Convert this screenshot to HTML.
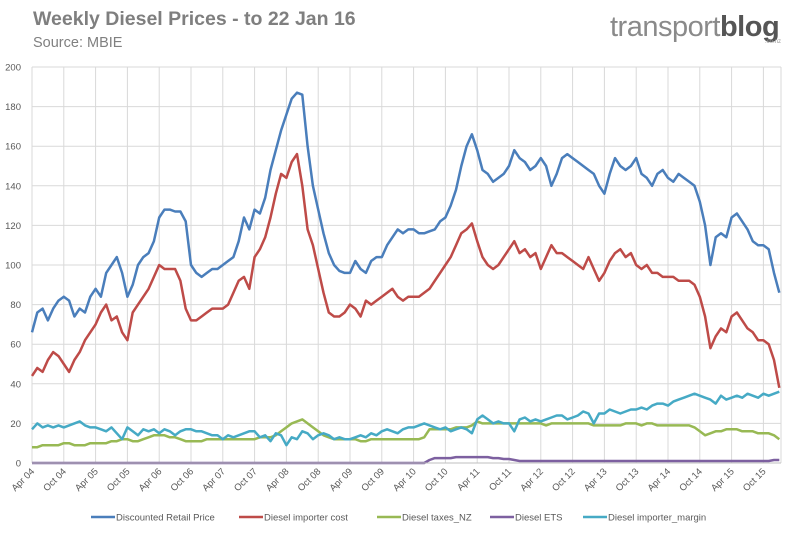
<!DOCTYPE html>
<html><head><meta charset="utf-8"><style>
html,body{margin:0;padding:0;background:#fff;}
body{width:800px;height:533px;overflow:hidden;font-family:"Liberation Sans",sans-serif;}
</style></head><body>
<svg id="chart" width="800" height="533" viewBox="0 0 800 533" xmlns="http://www.w3.org/2000/svg">
<text x="33" y="25" font-size="19.5" font-weight="bold" fill="#7f7f7f">Weekly Diesel Prices - to 22 Jan 16</text>
<text x="33" y="47" font-size="14.5" fill="#808080">Source: MBIE</text>
<g>
<text x="610" y="36" font-size="29" fill="#8a8a8a" letter-spacing="-0.5">transport<tspan font-weight="bold" fill="#555">blog</tspan></text>
<text x="765" y="43" font-size="6" fill="#999">.co.nz</text>
</g>
<g id="grid"></g>
<g id="series"></g>
<g id="axes"></g>
<g id="legend"></g>
</svg>
<script>
const tickLabels=["Apr 04","Oct 04","Apr 05","Oct 05","Apr 06","Oct 06","Apr 07","Oct 07","Apr 08","Oct 08","Apr 09","Oct 09","Apr 10","Oct 10","Apr 11","Oct 11","Apr 12","Oct 12","Apr 13","Oct 13","Apr 14","Oct 14","Apr 15","Oct 15"];
const yTicks=[0,20,40,60,80,100,120,140,160,180,200];
const retail=[66,76,78,72,78,82, 84,82,74,78,76,84, 88,84,96,100,104,96, 84,90,100,104,106,112, 124,128,128,127,127,122, 100,96,94,96,98,98, 100,102,104,112,124,118, 128,126,134,148,158,168, 176,184,187,186,160,140, 128,116,106,100,97,96, 96,102,98,96,102,104, 104,110,114,118,116,118, 118,116,116,117,118,122, 124,130,138,150,160,166, 158,148,146,142,144,146, 150,158,154,152,148,150, 154,150,140,146,154,156, 154,152,150,148,146,140, 136,146,154,150,148,150, 154,146,144,140,146,148, 144,142,146,144,142,140, 132,120,100,114,116,114, 124,126,122,118,112,110, 110,108,96,86];
const importerCost=[44,48,46,52,56,54, 50,46,52,56,62,66, 70,76,80,72,74,66, 62,76,80,84,88,94, 100,98,98,98,92,78, 72,72,74,76,78,78, 78,80,86,92,94,88, 104,108,114,124,136,146, 144,152,156,140,118,110, 98,86,76,74,74,76, 80,78,74,82,80,82, 84,86,88,84,82,84, 84,84,86,88,92,96, 100,104,110,116,118,121, 112,104,100,98,100,104, 108,112,106,108,104,106, 98,104,110,106,106,104, 102,100,98,104,98,92, 96,102,106,108,104,106, 100,98,100,96,96,94, 94,94,92,92,92,90, 84,74,58,64,68,66, 74,76,72,68,66,62, 62,60,52,38];
const taxes=[8,8,9,9,9,9, 10,10,9,9,9,10, 10,10,10,11,11,12, 12,11,11,12,13,14, 14,14,13,13,12,11, 11,11,11,12,12,12, 12,12,12,12,12,12, 12,13,13,13,14,16, 18,20,21,22,20,18, 16,14,13,12,12,12, 12,12,11,11,12,12, 12,12,12,12,12,12, 12,12,13,17,17,17, 17,17,18,18,18,19, 21,20,20,20,20,20, 20,20,20,20,20,20, 20,19,20,20,20,20, 20,20,20,20,19,19, 19,19,19,19,20,20, 20,19,20,20,19,19, 19,19,19,19,19,18, 16,14,15,16,16,17, 17,17,16,16,16,15, 15,15,14,12];
const ets=[0,0,0,0,0,0, 0,0,0,0,0,0, 0,0,0,0,0,0, 0,0,0,0,0,0, 0,0,0,0,0,0, 0,0,0,0,0,0, 0,0,0,0,0,0, 0,0,0,0,0,0, 0,0,0,0,0,0, 0,0,0,0,0,0, 0,0,0,0,0,0, 0,0,0,0,0,0, 0,0,0,1.5,2.5,2.5, 2.5,2.5,3,3,3,3, 3,3,3,2.5,2.5,2, 2,1.5,1,1,1,1, 1,1,1,1,1,1, 1,1,1,1,1,1, 1,1,1,1,1,1, 1,1,1,1,1,1, 1,1,1,1,1,1, 1,1,1,1,1,1, 1,1,1,1,1,1, 1,1,1.5,1.5];
const margin=[17,20,18,19,18,19, 18,19,20,21,19,18, 18,17,16,18,15,12, 18,16,14,17,16,17, 15,17,16,14,16,17, 17,16,16,15,14,14, 12,14,13,14,15,16, 16,13,14,11,15,14, 9,13,12,16,15,12, 14,15,14,12,13,12, 12,13,14,13,15,14, 16,17,16,15,17,18, 18,19,20,19,18,17, 18,16,17,18,17,15, 22,24,22,20,21,20, 20,16,22,23,21,22, 21,22,23,24,24,22, 23,24,26,25,20,25, 25,27,26,25,26,27, 27,28,27,29,30,30, 29,31,32,33,34,35, 34,33,32,30,34,32, 33,34,33,35,34,33, 35,34,35,36];
const seriesNames=["Discounted Retail Price","Diesel importer cost","Diesel taxes_NZ","Diesel ETS","Diesel importer_margin"];

const NS="http://www.w3.org/2000/svg";
const L=32,R=781,T=67,B=463;
const monthW=31.8/6;
function xm(i){return L+i*monthW;}
function yv(v){return B-(v/200)*(B-T);}
function mk(tag,attrs,parent){const e=document.createElementNS(NS,tag);for(const k in attrs)e.setAttribute(k,attrs[k]);parent.appendChild(e);return e;}
const grid=document.getElementById('grid'),axes=document.getElementById('axes'),ser=document.getElementById('series'),leg=document.getElementById('legend');
yTicks.forEach(t=>{
  const ln=mk('line',{x1:L,x2:R,y1:yv(t),y2:yv(t),stroke:'#d9d9d9','stroke-width':1},grid);
  
  
  const tx=mk('text',{x:21,y:yv(t)+3.5,'font-size':9.5,fill:'#595959','text-anchor':'end'},axes);
  tx.textContent=t;
  
  
});
tickLabels.forEach((lab,i)=>{
  const x=xm(i*6);
  const ln=mk('line',{x1:x,x2:x,y1:T,y2:B,stroke:'#d9d9d9','stroke-width':1},grid);
  
  
  const tx=mk('text',{x:x+3,y:B+9,'font-size':9.5,fill:'#595959','text-anchor':'end',transform:'rotate(-45 '+(x+3)+' '+(B+9)+')'},axes);
  tx.textContent=lab;
  
  
});
const rb=mk('line',{x1:R,x2:R,y1:T,y2:B,stroke:'#d9d9d9','stroke-width':1},grid);


const ax=mk('line',{x1:L,x2:R,y1:B,y2:B,stroke:'#bfbfbf','stroke-width':1},axes);


const colors=['#4a7ebb','#be4b48','#98b954','#7d60a0','#46aac5'];
const data=[retail,importerCost,taxes,ets,margin];
const ids=['retail-price-line','importer-cost-line','taxes-line','ets-line','importer-margin-line'];
[2,3,4,1,0].forEach(k=>{
  const d=data[k].map((v,i)=>(i?'L':'M')+xm(i).toFixed(1)+' '+yv(v).toFixed(1)).join(' ');
  const p=mk('path',{d:d,fill:'none',stroke:colors[k],'stroke-width':2.5,'stroke-linejoin':'round'},ser);
  
  
});
const legX=[91,239,377,490,583];
seriesNames.forEach((n,k)=>{
  const g=mk('g',{},leg);
  
  
  mk('line',{x1:legX[k],x2:legX[k]+24,y1:517,y2:517,stroke:colors[k],'stroke-width':2.5},g);
  const t=mk('text',{x:legX[k]+25,y:520.5,'font-size':9.5,fill:'#595959'},g);
  t.textContent=n;
});
</script>
</body></html>
